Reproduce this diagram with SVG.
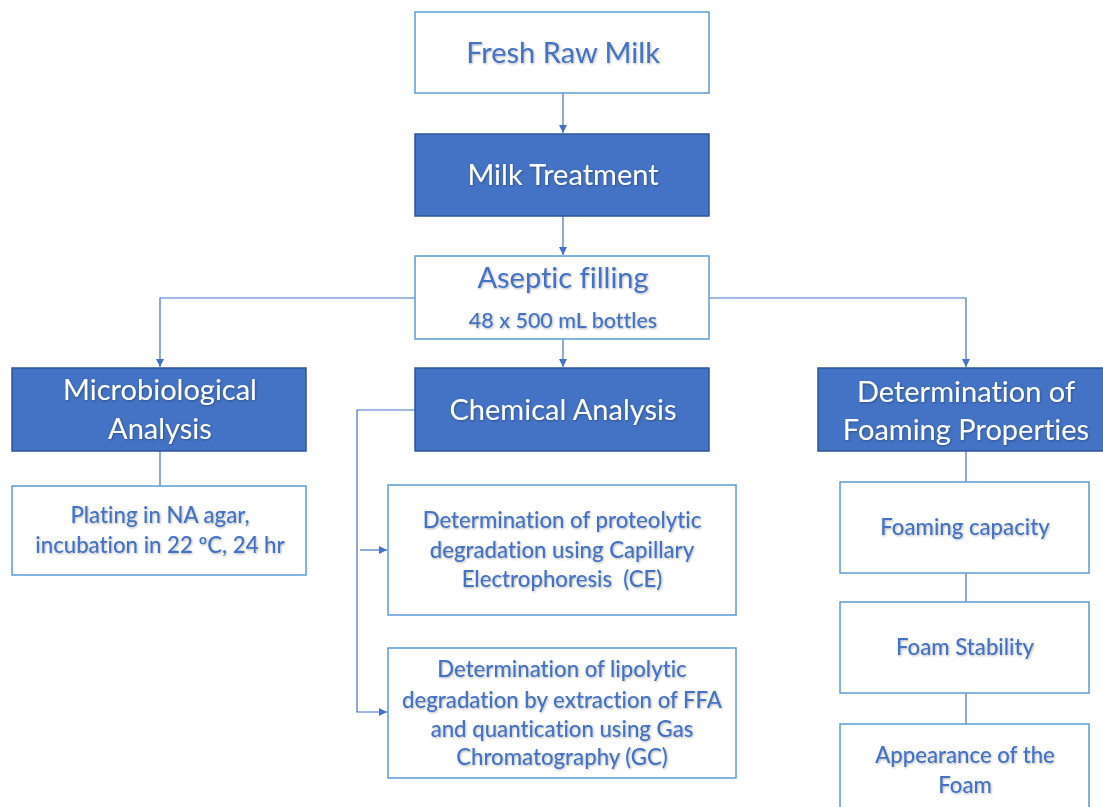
<svg xmlns="http://www.w3.org/2000/svg" width="1103" height="807" viewBox="0 0 1103 807">
<defs>
<style>
.wbox{fill:#fff;stroke:#5B9BD5;stroke-width:1.5}
.bbox{fill:#4472C4;stroke:#2F5597;stroke-width:1.5}
.t{font-family:Lato,"Open Sans",sans-serif;text-anchor:middle;fill:#4472C4;filter:url(#sh);font-variant-ligatures:none;font-feature-settings:"liga" 0,"clig" 0,"dlig" 0,"calt" 0}
.tw{font-family:Lato,"Open Sans",sans-serif;text-anchor:middle;fill:#fff;filter:url(#sh);font-variant-ligatures:none;font-feature-settings:"liga" 0,"clig" 0,"dlig" 0,"calt" 0}
.big{font-size:29px}
.mid{font-size:22.2px;font-weight:500;white-space:pre}
.sm{font-size:21.5px;font-weight:500}
.con{fill:none;stroke:#4472C4;stroke-width:1.2}
</style>
<filter id="sh" x="-10%" y="-30%" width="120%" height="160%">
<feDropShadow dx="0.8" dy="1" stdDeviation="1" flood-color="#000" flood-opacity="0.3"/>
</filter>
<marker id="ah" viewBox="0 0 10 10" refX="10" refY="5" markerWidth="8" markerHeight="8" markerUnits="userSpaceOnUse" orient="auto">
<path d="M0,0 L10,5 L0,10 z" fill="#4472C4"/>
</marker>
</defs>
<rect width="1103" height="807" fill="#fff"/>
<g id="connectors">
<line class="con" x1="563" y1="93" x2="563" y2="133" marker-end="url(#ah)"/>
<line class="con" x1="563" y1="216" x2="563" y2="255" marker-end="url(#ah)"/>
<line class="con" x1="563" y1="339" x2="563" y2="367" marker-end="url(#ah)"/>
<polyline class="con" points="415,298 160,298 160,367" marker-end="url(#ah)"/>
<polyline class="con" points="709,298 966,298 966,367" marker-end="url(#ah)"/>
<line class="con" x1="160" y1="451" x2="160" y2="486"/>
<polyline class="con" points="415,410 357,410 357,712 387,712" marker-end="url(#ah)"/>
<line class="con" x1="360" y1="550" x2="387" y2="550" marker-end="url(#ah)"/>
<line class="con" x1="966" y1="451" x2="966" y2="482"/>
<line class="con" x1="966" y1="573" x2="966" y2="602"/>
<line class="con" x1="966" y1="693" x2="966" y2="724"/>
</g>
<g id="fresh-raw-milk">
<rect class="wbox" x="415" y="12" width="294" height="81"/>
<text class="t big" x="563" y="63">Fresh Raw Milk</text>
</g>
<g id="milk-treatment">
<rect class="bbox" x="415" y="134" width="294" height="82"/>
<text class="tw big" x="563" y="185">Milk Treatment</text>
</g>
<g id="aseptic-filling">
<rect class="wbox" x="415" y="256" width="294" height="83"/>
<text class="t big" x="563" y="288">Aseptic filling</text>
<text class="t sm" x="563" y="328">48 x 500 mL bottles</text>
</g>
<g id="microbiological-analysis">
<rect class="bbox" x="12" y="368" width="294" height="83"/>
<text class="tw big" x="160" y="400">Microbiological</text>
<text class="tw big" x="160" y="439">Analysis</text>
</g>
<g id="chemical-analysis">
<rect class="bbox" x="415" y="368" width="294" height="83"/>
<text class="tw big" x="563" y="420">Chemical Analysis</text>
</g>
<g id="foaming-properties">
<rect class="bbox" x="818" y="368" width="296" height="83"/>
<text class="tw big" x="966" y="402">Determination of</text>
<text class="tw big" x="966" y="440">Foaming Properties</text>
</g>
<g id="plating">
<rect class="wbox" x="12" y="486" width="294" height="89"/>
<text class="t mid" x="160" y="523">Plating in NA agar,</text>
<text class="t mid" x="160" y="553">incubation in 22 ºC, 24 hr</text>
</g>
<g id="proteolytic">
<rect class="wbox" x="388" y="485" width="348" height="130"/>
<text class="t mid" x="562" y="528">Determination of proteolytic</text>
<text class="t mid" x="562" y="558">degradation using Capillary</text>
<text class="t mid" x="562" y="587" xml:space="preserve">Electrophoresis  (CE)</text>
</g>
<g id="lipolytic">
<rect class="wbox" x="388" y="648" width="348" height="130"/>
<text class="t mid" x="562" y="677">Determination of lipolytic</text>
<text class="t mid" x="562" y="708">degradation by extraction of FFA</text>
<text class="t mid" x="562" y="737">and quantication using Gas</text>
<text class="t mid" x="562" y="765">Chromatography (GC)</text>
</g>
<g id="foaming-capacity">
<rect class="wbox" x="840" y="482" width="249" height="91"/>
<text class="t mid" x="965" y="535">Foaming capacity</text>
</g>
<g id="foam-stability">
<rect class="wbox" x="840" y="602" width="249" height="91"/>
<text class="t mid" x="965" y="655">Foam Stability</text>
</g>
<g id="appearance">
<rect class="wbox" x="840" y="724" width="249" height="100"/>
<text class="t mid" x="965" y="763">Appearance of the</text>
<text class="t mid" x="965" y="793">Foam</text>
</g>
</svg>
